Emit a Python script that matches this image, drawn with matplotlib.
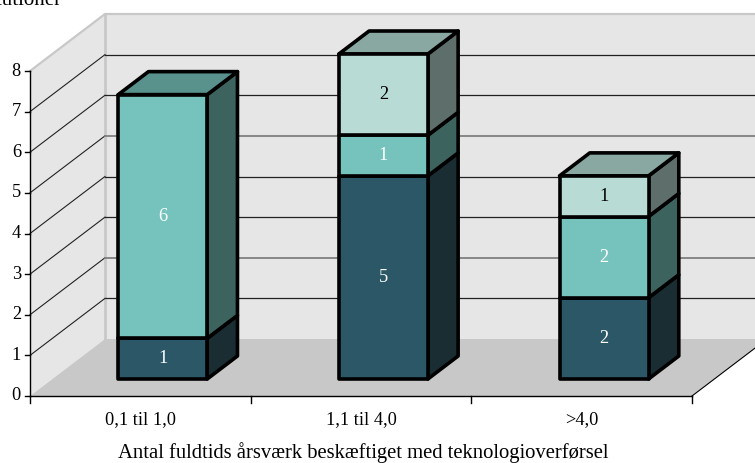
import matplotlib
matplotlib.use("Agg")
import matplotlib.pyplot as plt
from matplotlib.patches import Polygon

plt.rcParams['font.family'] = ['Liberation Serif', 'DejaVu Serif']

categories = ["0,1 til 1,0", "1,1 til 4,0", ">4,0"]
series_a = [1, 5, 2]
series_b = [6, 1, 2]
series_c = [0, 2, 1]
yticks = [0, 1, 2, 3, 4, 5, 6, 7, 8]
grid_gray = [2, 5]
xlabel = "Antal fuldtids årsværk beskæftiget med teknologioverførsel"
ylabel = "Antal institutioner"

front = ["#2c5766", "#75c3bc", "#b8dcd5"]
top = ["#1f4450", "#59918c", "#89a8a2"]
side = ["#192d33", "#3d635f", "#5e6f6b"]
txt = ["white", "white", "black"]

W, H = 755, 463
fig = plt.figure(figsize=(W / 100, H / 100), dpi=100)
ax = fig.add_axes([30 / W, 1 - 396 / H, 662 / W, 325 / H])
ax.set_xlim(0, 3)
ax.set_ylim(0, 8)
ax.axis("off")

DX, DY = 75 / 662 * 3, 57 / 325 * 8


def P(x, y, d):
    return (x + DX * d, y + DY * d)


def poly(pts, fc, ec="none", lw=0, z=1):
    ax.add_patch(Polygon(pts, closed=True, fc=fc, ec=ec, lw=lw, zorder=z,
                         clip_on=False, joinstyle="round"))


poly([P(0, 0, 0), P(0, 8, 0), P(0, 8, 1), P(0, 0, 1)], "#e6e6e6")
poly([P(0, 0, 1), P(0, 8, 1), P(3, 8, 1), P(3, 0, 1)], "#e6e6e6")
poly([P(0, 0, 0), P(0, 0, 1), P(3, 0, 1), P(3, 0, 0)], "#c8c8c8")
ax.plot(*zip(P(0, 8, 0), P(0, 8, 1), P(3, 8, 1)), color="#c8c8c8", lw=1.6,
        clip_on=False, zorder=2)
ax.plot(*zip(P(0, 0, 1), P(0, 8, 1)), color="#c8c8c8", lw=2, clip_on=False, zorder=2)

for v in yticks[1:-1]:
    ax.plot(*zip(P(0, v, 0), P(0, v, 1)), color="#222222", lw=0.8,
            clip_on=False, zorder=3)
    gray = v in grid_gray
    ax.plot(*zip(P(0, v, 1), P(3, v, 1)), color="#808080" if gray else "#222222",
            lw=1.3 if gray else 0.9, clip_on=False, zorder=3)

# front axis lines
ax.plot([0, 0], [0, 8], color="black", lw=1, clip_on=False, zorder=4)
ax.plot([0, 3], [0, 0], color="black", lw=1, clip_on=False, zorder=4)
ax.plot(*zip(P(3, 0, 0), P(3, 0, 1)), color="black", lw=0.8, clip_on=False, zorder=4)
for v in yticks:
    ax.plot([-5 / 662 * 3, 0], [v, v], color="black", lw=1, clip_on=False, zorder=4)
    ax.text(-9 / 662 * 3, v, str(v), ha="right", va="center", fontsize=13.2, color="black")
for i in range(4):
    ax.plot([i, i], [0, -7 / 325 * 8], color="black", lw=1, clip_on=False, zorder=4)

BW = 89 / 662 * 3
D0, D1 = 17 / 57, 40 / 57
for i, cat in enumerate(categories):
    x0, x1 = i + 0.5 - BW / 2, i + 0.5 + BW / 2
    bottom = 0
    vals = [series_a[i], series_b[i], series_c[i]]
    last = max(k for k, v in enumerate(vals) if v > 0)
    for k, v in enumerate(vals):
        if v == 0:
            continue
        y0, y1 = bottom, bottom + v
        kw = dict(ec="black", lw=2.6, z=10)
        poly([P(x1, y0, D0), P(x1, y0, D1), P(x1, y1, D1), P(x1, y1, D0)], side[k], **kw)
        if k == last:
            poly([P(x0, y1, D0), P(x0, y1, D1), P(x1, y1, D1), P(x1, y1, D0)], top[k], **kw)
        poly([P(x0, y0, D0), P(x1, y0, D0), P(x1, y1, D0), P(x0, y1, D0)], front[k], **kw)
        cx, cy = P((x0 + x1) / 2, (y0 + y1) / 2, D0)
        ax.text(cx, cy, str(v), ha="center", va="center", fontsize=13.2, color=txt[k], zorder=12)
        bottom = y1
    ax.text(i + 0.5, -24 / 325 * 8, cat, ha="center", va="center", fontsize=13.2)

ax.text((363 - 30) / 662 * 3, -57 / 325 * 8, xlabel, ha="center", va="center", fontsize=14.9)
fig.text(61.5 / W, 1 - 5 / H, ylabel, ha="right", va="baseline", fontsize=15)

fig.savefig("out.png", dpi=100)
